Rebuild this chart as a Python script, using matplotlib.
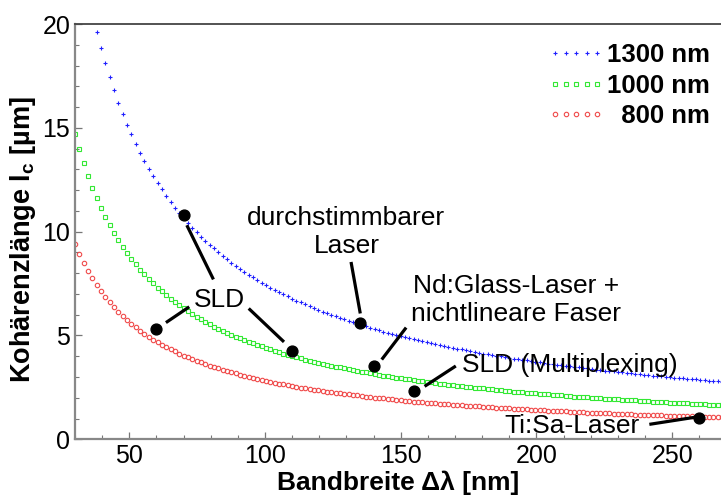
import matplotlib
matplotlib.use("Agg")
import matplotlib.pyplot as plt
from matplotlib.ticker import MultipleLocator

plt.rcParams["font.family"] = ["Liberation Sans", "DejaVu Sans"]
plt.rcParams["mathtext.fontset"] = "custom"
plt.rcParams["mathtext.rm"] = "Liberation Sans"
plt.rcParams["mathtext.bf"] = "Liberation Sans:bold"

# Bandwidth samples (nm)
bandwidth = [
    30.0, 31.6, 33.2, 34.8, 36.4, 38.0, 39.6, 41.2, 42.8, 44.4, 46.0, 47.6, 49.2, 50.8, 52.4,
    54.0, 55.6, 57.2, 58.8, 60.4, 62.0, 63.6, 65.2, 66.8, 68.4, 70.0, 71.6, 73.2, 74.8, 76.4,
    78.0, 79.6, 81.2, 82.8, 84.4, 86.0, 87.6, 89.2, 90.8, 92.4, 94.0, 95.6, 97.2, 98.8, 100.4,
    102.0, 103.6, 105.2, 106.8, 108.4, 110.0, 111.6, 113.2, 114.8, 116.4, 118.0, 119.6, 121.2,
    122.8, 124.4, 126.0, 127.6, 129.2, 130.8, 132.4, 134.0, 135.6, 137.2, 138.8, 140.4, 142.0,
    143.6, 145.2, 146.8, 148.4, 150.0, 151.6, 153.2, 154.8, 156.4, 158.0, 159.6, 161.2, 162.8,
    164.4, 166.0, 167.6, 169.2, 170.8, 172.4, 174.0, 175.6, 177.2, 178.8, 180.4, 182.0, 183.6,
    185.2, 186.8, 188.4, 190.0, 191.6, 193.2, 194.8, 196.4, 198.0, 199.6, 201.2, 202.8, 204.4,
    206.0, 207.6, 209.2, 210.8, 212.4, 214.0, 215.6, 217.2, 218.8, 220.4, 222.0, 223.6, 225.2,
    226.8, 228.4, 230.0, 231.6, 233.2, 234.8, 236.4, 238.0, 239.6, 241.2, 242.8, 244.4, 246.0,
    247.6, 249.2, 250.8, 252.4, 254.0, 255.6, 257.2, 258.8, 260.4, 262.0, 263.6, 265.2, 266.8,
    268.4, 270.0,
]

# Coherence length (um) for the three centre wavelengths
lc_1300 = [
    19.63, 18.83, 18.10, 17.43, 16.80, 16.21, 15.67, 15.16, 14.68, 14.23, 13.81, 13.41, 13.04,
    12.68, 12.35, 12.03, 11.73, 11.44, 11.16, 10.90, 10.65, 10.42, 10.19, 9.97, 9.76, 9.56, 9.37,
    9.19, 9.01, 8.84, 8.67, 8.51, 8.36, 8.21, 8.07, 7.93, 7.80, 7.67, 7.55, 7.43, 7.31, 7.20,
    7.09, 6.98, 6.88, 6.78, 6.68, 6.59, 6.50, 6.41, 6.32, 6.24, 6.15, 6.07, 5.99, 5.92, 5.84,
    5.77, 5.70, 5.63, 5.57, 5.50, 5.44, 5.37, 5.31, 5.25, 5.19, 5.14, 5.08, 5.03, 4.97, 4.92,
    4.87, 4.82, 4.77, 4.72, 4.67, 4.63, 4.58, 4.54, 4.49, 4.45, 4.41, 4.37, 4.33, 4.29, 4.25,
    4.21, 4.17, 4.13, 4.10, 4.06, 4.03, 3.99, 3.96, 3.93, 3.89, 3.86, 3.83, 3.80, 3.77, 3.74,
    3.71, 3.68, 3.65, 3.62, 3.59, 3.56, 3.54, 3.51, 3.48, 3.46, 3.43, 3.41, 3.38, 3.36, 3.34,
    3.31, 3.29, 3.27, 3.24, 3.22, 3.20, 3.18, 3.16, 3.13, 3.11, 3.09, 3.07, 3.05, 3.03, 3.01,
    2.99, 2.97, 2.95, 2.94, 2.92, 2.90, 2.88, 2.86, 2.85, 2.83, 2.81, 2.80, 2.78, 2.76,
]
lc_1000 = [
    14.71, 13.97, 13.29, 12.68, 12.12, 11.61, 11.14, 10.71, 10.31, 9.94, 9.59, 9.27, 8.97, 8.69,
    8.42, 8.17, 7.94, 7.72, 7.51, 7.31, 7.12, 6.94, 6.77, 6.61, 6.45, 6.30, 6.16, 6.03, 5.90,
    5.78, 5.66, 5.54, 5.43, 5.33, 5.23, 5.13, 5.04, 4.95, 4.86, 4.78, 4.69, 4.62, 4.54, 4.47,
    4.40, 4.33, 4.26, 4.19, 4.13, 4.07, 4.01, 3.95, 3.90, 3.84, 3.79, 3.74, 3.69, 3.64, 3.59,
    3.55, 3.50, 3.46, 3.42, 3.37, 3.33, 3.29, 3.25, 3.22, 3.18, 3.14, 3.11, 3.07, 3.04, 3.01,
    2.97, 2.94, 2.91, 2.88, 2.85, 2.82, 2.79, 2.77, 2.74, 2.71, 2.68, 2.66, 2.63, 2.61, 2.58,
    2.56, 2.54, 2.51, 2.49, 2.47, 2.45, 2.42, 2.40, 2.38, 2.36, 2.34, 2.32, 2.30, 2.28, 2.27,
    2.25, 2.23, 2.21, 2.19, 2.18, 2.16, 2.14, 2.13, 2.11, 2.09, 2.08, 2.06, 2.05, 2.03, 2.02,
    2.00, 1.99, 1.97, 1.96, 1.95, 1.93, 1.92, 1.91, 1.89, 1.88, 1.87, 1.85, 1.84, 1.83, 1.82,
    1.81, 1.79, 1.78, 1.77, 1.76, 1.75, 1.74, 1.73, 1.72, 1.71, 1.69, 1.68, 1.67, 1.66, 1.65,
    1.64, 1.63,
]
lc_800 = [
    9.41, 8.94, 8.51, 8.12, 7.76, 7.43, 7.13, 6.86, 6.60, 6.36, 6.14, 5.93, 5.74, 5.56, 5.39,
    5.23, 5.08, 4.94, 4.80, 4.68, 4.56, 4.44, 4.33, 4.23, 4.13, 4.03, 3.94, 3.86, 3.78, 3.70,
    3.62, 3.55, 3.48, 3.41, 3.35, 3.28, 3.22, 3.17, 3.11, 3.06, 3.00, 2.95, 2.91, 2.86, 2.81,
    2.77, 2.73, 2.68, 2.64, 2.61, 2.57, 2.53, 2.49, 2.46, 2.43, 2.39, 2.36, 2.33, 2.30, 2.27,
    2.24, 2.21, 2.19, 2.16, 2.13, 2.11, 2.08, 2.06, 2.03, 2.01, 1.99, 1.97, 1.95, 1.92, 1.90,
    1.88, 1.86, 1.84, 1.82, 1.81, 1.79, 1.77, 1.75, 1.73, 1.72, 1.70, 1.69, 1.67, 1.65, 1.64,
    1.62, 1.61, 1.59, 1.58, 1.57, 1.55, 1.54, 1.53, 1.51, 1.50, 1.49, 1.47, 1.46, 1.45, 1.44,
    1.43, 1.42, 1.40, 1.39, 1.38, 1.37, 1.36, 1.35, 1.34, 1.33, 1.32, 1.31, 1.30, 1.29, 1.28,
    1.27, 1.26, 1.25, 1.25, 1.24, 1.23, 1.22, 1.21, 1.20, 1.19, 1.19, 1.18, 1.17, 1.16, 1.16,
    1.15, 1.14, 1.13, 1.13, 1.12, 1.11, 1.11, 1.10, 1.09, 1.08, 1.08, 1.07, 1.06, 1.06, 1.05,
    1.05,
]
bw_1300 = bandwidth[5:]

# Light sources: bandwidth (nm), coherence length (um)
src_bw = [70, 60, 110, 135, 140, 155, 260]
src_lc = [10.8, 5.33, 4.26, 5.6, 3.52, 2.33, 1.03]

fig = plt.figure(figsize=(7.21, 4.95), dpi=100)
ax = fig.add_axes([75 / 721, 1 - 439.3 / 495, 1 - 75 / 721, (439.3 - 24) / 495])

ax.plot(bw_1300, lc_1300, ls="none", marker="+", ms=3.5, mew=0.8,
        color="#2020ff", label="1300 nm")
ax.plot(bandwidth, lc_1000, ls="none", marker="s", ms=3.0, mew=0.8,
        mfc="none", mec="#33e833", label="1000 nm")
ax.plot(bandwidth, lc_800, ls="none", marker="o", ms=3.2, mew=0.8,
        mfc="none", mec="#f04a4a", label="  800 nm")

ax.plot(src_bw, src_lc, ls="none", marker="o", ms=7.8, color="black", zorder=5)

# Labels and leader lines
tkw = dict(fontsize=19, color="black", ha="center", va="baseline",
           multialignment="center", linespacing=1.2)
lkw = dict(color="black", lw=2.3, solid_capstyle="butt", zorder=4)

ax.text(83.1, 6.39, "SLD", **tkw)
ax.plot([71.2, 81.0], [10.31, 7.70], **lkw)
ax.plot([63.5, 72.1], [5.62, 6.38], **lkw)
ax.plot([94.0, 107.0], [6.30, 4.69], **lkw)

ax.text(130.0, 8.96, "durchstimmbarer\nLaser", **tkw)
ax.plot([131.7, 135.1], [8.54, 6.06], **lkw)

ax.text(192.5, 5.71, "Nd:Glass-Laser +\nnichtlineare Faser", **tkw)
ax.plot([152.0, 143.0], [5.38, 3.84], **lkw)

ax.text(212.4, 3.24, "SLD (Multiplexing)", **tkw)
ax.plot([170.3, 158.8], [3.53, 2.55], **lkw)

ax.text(213.2, 0.30, "Ti:Sa-Laser", **tkw)
ax.plot([241.6, 258.8], [0.72, 1.07], **lkw)

ax.set_xlim(30, 268)
ax.set_ylim(0, 20)
ax.xaxis.set_major_locator(MultipleLocator(50))
ax.xaxis.set_minor_locator(MultipleLocator(10))
ax.yaxis.set_major_locator(MultipleLocator(5))
ax.yaxis.set_minor_locator(MultipleLocator(1))
ax.tick_params(which="both", direction="in", colors="#777777", labelcolor="black",
               labelsize=18, top=False, right=False)
ax.tick_params(which="major", length=5, width=0.9)
ax.tick_params(which="minor", length=3, width=0.8)
ax.tick_params(axis="x", which="major", pad=3.5)
ax.tick_params(axis="y", which="major", pad=3.5)

for side in ("left", "bottom"):
    ax.spines[side].set_color("#888888")
    ax.spines[side].set_linewidth(1.6)
ax.spines["top"].set_color("#444444")
ax.spines["top"].set_linewidth(1.3)
ax.spines["right"].set_visible(False)

ax.set_xlabel("Bandbreite Δλ [nm]", fontsize=19, fontweight="bold", labelpad=1.5)
ax.set_ylabel(r"Kohärenzlänge l$_{\mathbf{c}}$ [µm]", fontsize=19.5, fontweight="bold")
ax.yaxis.set_label_coords(-0.0573, 0.482)

leg = ax.legend(loc="upper right", bbox_to_anchor=(710 / 721, (495 - 43) / 495),
                bbox_transform=fig.transFigure, frameon=False, numpoints=5,
                handlelength=2.23, handletextpad=0.08, labelspacing=0.26,
                borderpad=0, borderaxespad=0,
                prop=dict(size=18.5, weight="bold"))

fig.savefig("out.png", dpi=100)
